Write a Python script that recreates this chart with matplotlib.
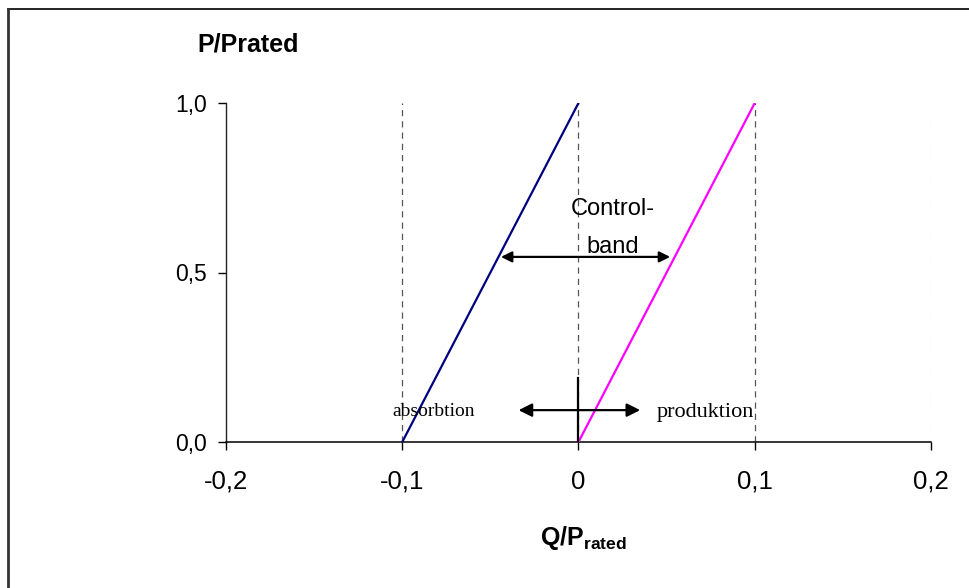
import matplotlib.pyplot as plt
from matplotlib.lines import Line2D

plt.rcParams['font.family'] = ['Liberation Sans', 'DejaVu Sans']
plt.rcParams['mathtext.fontset'] = 'custom'
plt.rcParams['mathtext.rm'] = 'Liberation Sans'
plt.rcParams['mathtext.bf'] = 'Liberation Sans:bold'

# Q/Prated - P/Prated characteristic lines
q_absorb = [-0.1, 0.0]
p_absorb = [0.0, 1.0]
q_produce = [0.0, 0.1]
p_produce = [0.0, 1.0]

x_ticks = [-0.2, -0.1, 0.0, 0.1, 0.2]
x_tick_labels = ['-0,2', '-0,1', '0', '0,1', '0,2']
y_ticks = [0.0, 0.5, 1.0]
y_tick_labels = ['0,0', '0,5', '1,0']
grid_x = [-0.1, 0.0, 0.1]
grid_x_faint = [0.2]

# annotations (data coords)
band_arrow_x = [-0.044, 0.052]
band_arrow_y = 0.546
cross_arrow_x = [-0.034, 0.035]
cross_arrow_y = 0.094
cross_vline = [0.0, 0.19]

fig = plt.figure(figsize=(9.7, 5.88), dpi=100)
ax = fig.add_axes([226/970, 1-442/588, (931-226)/970, (442-103)/588])

for gx in grid_x:
    ax.plot([gx, gx], [0, 1], color='#555555', lw=0.9, ls=(0, (5, 4)), zorder=1)
for gx in grid_x_faint:
    ax.plot([gx, gx], [0, 1], color='#e4e4e4', lw=0.9, ls=(0, (5, 4)), zorder=1)

ax.plot(q_absorb, p_absorb, color='#000080', lw=1.6, zorder=3)
ax.plot(q_produce, p_produce, color='#ff00ff', lw=1.6, zorder=3)

ax.set_xlim(-0.2, 0.2)
ax.set_ylim(0, 1)
ax.set_xticks(x_ticks)
ax.set_xticklabels(x_tick_labels, fontsize=18.5)
ax.set_yticks(y_ticks)
ax.set_yticklabels(y_tick_labels, fontsize=16.5)
ax.tick_params(axis='both', direction='out', length=6, width=1, color='black')
ax.tick_params(axis='y', pad=8)
ax.tick_params(axis='x', pad=14)
ax.spines['top'].set_visible(False)
ax.spines['right'].set_visible(False)
ax.spines['left'].set_linewidth(1)
ax.spines['bottom'].set_linewidth(1.1)
ax.spines['left'].set_color('#222222')
ax.patch.set_alpha(0)

# Control band arrow
ax.annotate('', xy=(band_arrow_x[0], band_arrow_y), xytext=(band_arrow_x[1], band_arrow_y),
            arrowprops=dict(arrowstyle='<|-|>', color='black', lw=1.6,
                            mutation_scale=16, shrinkA=0, shrinkB=0), zorder=4)
ax.text(0.0196, 0.631, 'Control-\nband', fontsize=17, ha='center', va='center',
        linespacing=1.9, zorder=5)

# cross at origin
ax.plot([0, 0], cross_vline, color='black', lw=1.6, zorder=4)
ax.annotate('', xy=(cross_arrow_x[0], cross_arrow_y), xytext=(cross_arrow_x[1], cross_arrow_y),
            arrowprops=dict(arrowstyle='<|-|>', color='black', lw=1.6,
                            mutation_scale=20, shrinkA=0, shrinkB=0), zorder=4)

ax.text(-0.0823, 0.091, 'absorbtion', fontsize=14, family='Liberation Serif',
        ha='center', va='center', zorder=5)
ax.text(0.072, 0.086, 'produktion', fontsize=16, family='Liberation Serif',
        ha='center', va='center', zorder=5)

fig.text(540/970, 1-545/588, r'$\mathbf{Q/P}_{\mathbf{rated}}$', fontsize=18,
         ha='left', va='baseline')
fig.text(197/970, 1-45/588, 'P/Prated', fontsize=18, fontweight='bold',
         ha='left', va='center')

# outer frame
fig.add_artist(Line2D([8/970, 1], [1-9/588, 1-9/588], color='black', lw=1.2,
                      transform=fig.transFigure))
fig.add_artist(Line2D([8/970, 8/970], [0, 1-9/588], color='#333333', lw=2,
                      transform=fig.transFigure))

fig.savefig('out.png', dpi=100)
